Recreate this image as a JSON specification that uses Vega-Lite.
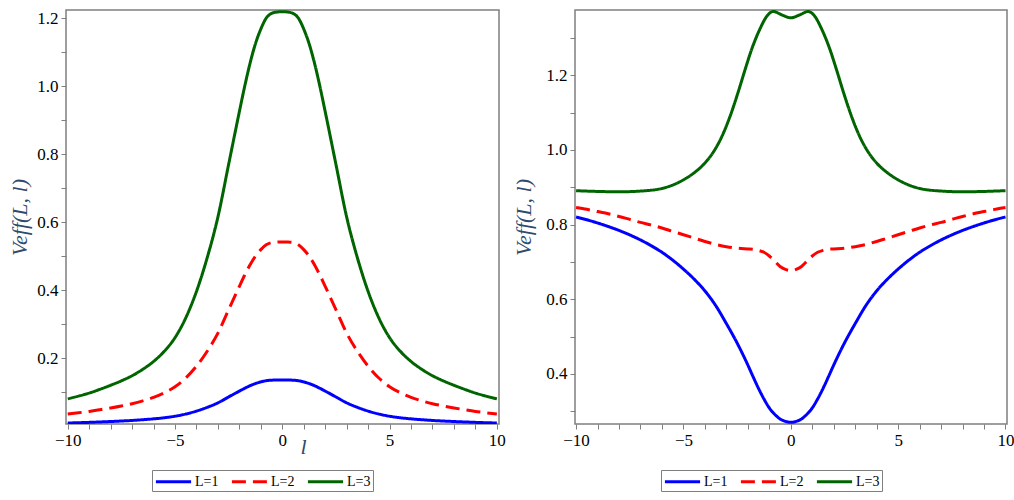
{
  "$schema": "https://vega.github.io/schema/vega-lite/v6.json",
  "background": "white",
  "padding": {"left": 7, "top": 8, "right": 0, "bottom": 0},
  "config": {
    "view": {"stroke": "#7f7f7f", "strokeWidth": 1.5},
    "font": "Liberation Serif",
    "style": {"guide-label": {"font": "Liberation Serif"}, "guide-title": {"font": "Liberation Serif"}},
    "concat": {"spacing": 4},
    "axis": {"domain": false, "grid": false, "tickColor": "#7f7f7f", "tickSize": 5, "tickWidth": 1, "labelFont": "Liberation Serif", "labelFontSize": 17, "labelColor": "black", "labelPadding": 3, "labelFlush": false, "labelOverlap": false, "titleFont": "Liberation Serif", "titleFontStyle": "italic", "titleFontWeight": "normal", "titleFontSize": 22, "titleColor": "#2f4a6e"},
    "legend": {"strokeColor": "#7f7f7f", "padding": 2, "symbolType": "M-2.2,0H2.2", "symbolSize": 256, "symbolOffset": 10, "symbolStrokeWidth": 3, "labelFont": "Liberation Serif", "labelFontSize": 14, "labelColor": "black", "labelOffset": 12, "columnPadding": 6}
  },
  "datasets": {
    "left": [
      {"l":-10,"V":0.0089,"L":"L=1"},{"l":-9.5,"V":0.0098,"L":"L=1"},{"l":-9,"V":0.0108,"L":"L=1"},{"l":-8.5,"V":0.012,"L":"L=1"},{"l":-8,"V":0.0133,"L":"L=1"},{"l":-7.5,"V":0.0148,"L":"L=1"},{"l":-7,"V":0.0164,"L":"L=1"},{"l":-6.5,"V":0.0186,"L":"L=1"},{"l":-6,"V":0.0211,"L":"L=1"},{"l":-5.5,"V":0.0244,"L":"L=1"},{"l":-5,"V":0.0289,"L":"L=1"},{"l":-4.5,"V":0.0353,"L":"L=1"},{"l":-4,"V":0.044,"L":"L=1"},{"l":-3.5,"V":0.055,"L":"L=1"},{"l":-3,"V":0.0683,"L":"L=1"},{"l":-2.5,"V":0.0856,"L":"L=1"},{"l":-2,"V":0.1028,"L":"L=1"},{"l":-1.75,"V":0.1111,"L":"L=1"},{"l":-1.5,"V":0.1187,"L":"L=1"},{"l":-1.25,"V":0.125,"L":"L=1"},{"l":-1,"V":0.1298,"L":"L=1"},{"l":-0.75,"V":0.1333,"L":"L=1"},{"l":-0.5,"V":0.1349,"L":"L=1"},{"l":-0.25,"V":0.1353,"L":"L=1"},{"l":0,"V":0.1354,"L":"L=1"},{"l":0.25,"V":0.1353,"L":"L=1"},{"l":0.5,"V":0.1349,"L":"L=1"},{"l":0.75,"V":0.1333,"L":"L=1"},{"l":1,"V":0.1298,"L":"L=1"},{"l":1.25,"V":0.125,"L":"L=1"},{"l":1.5,"V":0.1187,"L":"L=1"},{"l":1.75,"V":0.1111,"L":"L=1"},{"l":2,"V":0.1028,"L":"L=1"},{"l":2.5,"V":0.0856,"L":"L=1"},{"l":3,"V":0.0683,"L":"L=1"},{"l":3.5,"V":0.055,"L":"L=1"},{"l":4,"V":0.044,"L":"L=1"},{"l":4.5,"V":0.0353,"L":"L=1"},{"l":5,"V":0.0289,"L":"L=1"},{"l":5.5,"V":0.0244,"L":"L=1"},{"l":6,"V":0.0211,"L":"L=1"},{"l":6.5,"V":0.0186,"L":"L=1"},{"l":7,"V":0.0164,"L":"L=1"},{"l":7.5,"V":0.0148,"L":"L=1"},{"l":8,"V":0.0133,"L":"L=1"},{"l":8.5,"V":0.012,"L":"L=1"},{"l":9,"V":0.0108,"L":"L=1"},{"l":9.5,"V":0.0098,"L":"L=1"},{"l":10,"V":0.0089,"L":"L=1"},
      {"l":-10,"V":0.0356,"L":"L=2"},{"l":-9.5,"V":0.0391,"L":"L=2"},{"l":-9,"V":0.0431,"L":"L=2"},{"l":-8.5,"V":0.048,"L":"L=2"},{"l":-8,"V":0.0533,"L":"L=2"},{"l":-7.5,"V":0.0591,"L":"L=2"},{"l":-7,"V":0.0658,"L":"L=2"},{"l":-6.5,"V":0.0742,"L":"L=2"},{"l":-6,"V":0.0844,"L":"L=2"},{"l":-5.5,"V":0.0978,"L":"L=2"},{"l":-5,"V":0.1156,"L":"L=2"},{"l":-4.5,"V":0.1413,"L":"L=2"},{"l":-4,"V":0.176,"L":"L=2"},{"l":-3.5,"V":0.22,"L":"L=2"},{"l":-3,"V":0.2733,"L":"L=2"},{"l":-2.5,"V":0.3422,"L":"L=2"},{"l":-2,"V":0.4111,"L":"L=2"},{"l":-1.75,"V":0.4444,"L":"L=2"},{"l":-1.5,"V":0.4747,"L":"L=2"},{"l":-1.25,"V":0.5,"L":"L=2"},{"l":-1,"V":0.5191,"L":"L=2"},{"l":-0.75,"V":0.5333,"L":"L=2"},{"l":-0.5,"V":0.5396,"L":"L=2"},{"l":-0.25,"V":0.5413,"L":"L=2"},{"l":0,"V":0.5418,"L":"L=2"},{"l":0.25,"V":0.5413,"L":"L=2"},{"l":0.5,"V":0.5396,"L":"L=2"},{"l":0.75,"V":0.5333,"L":"L=2"},{"l":1,"V":0.5191,"L":"L=2"},{"l":1.25,"V":0.5,"L":"L=2"},{"l":1.5,"V":0.4747,"L":"L=2"},{"l":1.75,"V":0.4444,"L":"L=2"},{"l":2,"V":0.4111,"L":"L=2"},{"l":2.5,"V":0.3422,"L":"L=2"},{"l":3,"V":0.2733,"L":"L=2"},{"l":3.5,"V":0.22,"L":"L=2"},{"l":4,"V":0.176,"L":"L=2"},{"l":4.5,"V":0.1413,"L":"L=2"},{"l":5,"V":0.1156,"L":"L=2"},{"l":5.5,"V":0.0978,"L":"L=2"},{"l":6,"V":0.0844,"L":"L=2"},{"l":6.5,"V":0.0742,"L":"L=2"},{"l":7,"V":0.0658,"L":"L=2"},{"l":7.5,"V":0.0591,"L":"L=2"},{"l":8,"V":0.0533,"L":"L=2"},{"l":8.5,"V":0.048,"L":"L=2"},{"l":9,"V":0.0431,"L":"L=2"},{"l":9.5,"V":0.0391,"L":"L=2"},{"l":10,"V":0.0356,"L":"L=2"},
      {"l":-10,"V":0.08,"L":"L=3"},{"l":-9.5,"V":0.088,"L":"L=3"},{"l":-9,"V":0.097,"L":"L=3"},{"l":-8.5,"V":0.108,"L":"L=3"},{"l":-8,"V":0.12,"L":"L=3"},{"l":-7.5,"V":0.133,"L":"L=3"},{"l":-7,"V":0.148,"L":"L=3"},{"l":-6.5,"V":0.167,"L":"L=3"},{"l":-6,"V":0.19,"L":"L=3"},{"l":-5.5,"V":0.22,"L":"L=3"},{"l":-5,"V":0.26,"L":"L=3"},{"l":-4.5,"V":0.318,"L":"L=3"},{"l":-4,"V":0.396,"L":"L=3"},{"l":-3.5,"V":0.495,"L":"L=3"},{"l":-3,"V":0.615,"L":"L=3"},{"l":-2.5,"V":0.77,"L":"L=3"},{"l":-2,"V":0.925,"L":"L=3"},{"l":-1.75,"V":1.0,"L":"L=3"},{"l":-1.5,"V":1.068,"L":"L=3"},{"l":-1.25,"V":1.125,"L":"L=3"},{"l":-1,"V":1.168,"L":"L=3"},{"l":-0.75,"V":1.2,"L":"L=3"},{"l":-0.5,"V":1.214,"L":"L=3"},{"l":-0.25,"V":1.218,"L":"L=3"},{"l":0,"V":1.219,"L":"L=3"},{"l":0.25,"V":1.218,"L":"L=3"},{"l":0.5,"V":1.214,"L":"L=3"},{"l":0.75,"V":1.2,"L":"L=3"},{"l":1,"V":1.168,"L":"L=3"},{"l":1.25,"V":1.125,"L":"L=3"},{"l":1.5,"V":1.068,"L":"L=3"},{"l":1.75,"V":1.0,"L":"L=3"},{"l":2,"V":0.925,"L":"L=3"},{"l":2.5,"V":0.77,"L":"L=3"},{"l":3,"V":0.615,"L":"L=3"},{"l":3.5,"V":0.495,"L":"L=3"},{"l":4,"V":0.396,"L":"L=3"},{"l":4.5,"V":0.318,"L":"L=3"},{"l":5,"V":0.26,"L":"L=3"},{"l":5.5,"V":0.22,"L":"L=3"},{"l":6,"V":0.19,"L":"L=3"},{"l":6.5,"V":0.167,"L":"L=3"},{"l":7,"V":0.148,"L":"L=3"},{"l":7.5,"V":0.133,"L":"L=3"},{"l":8,"V":0.12,"L":"L=3"},{"l":8.5,"V":0.108,"L":"L=3"},{"l":9,"V":0.097,"L":"L=3"},{"l":9.5,"V":0.088,"L":"L=3"},{"l":10,"V":0.08,"L":"L=3"}
    ],
    "right": [
      {"l":-10,"V":0.8205,"L":"L=1"},{"l":-9.5,"V":0.813,"L":"L=1"},{"l":-9,"V":0.8045,"L":"L=1"},{"l":-8.5,"V":0.795,"L":"L=1"},{"l":-8,"V":0.7845,"L":"L=1"},{"l":-7.5,"V":0.7725,"L":"L=1"},{"l":-7,"V":0.759,"L":"L=1"},{"l":-6.5,"V":0.7435,"L":"L=1"},{"l":-6,"V":0.726,"L":"L=1"},{"l":-5.5,"V":0.705,"L":"L=1"},{"l":-5,"V":0.681,"L":"L=1"},{"l":-4.5,"V":0.654,"L":"L=1"},{"l":-4,"V":0.6225,"L":"L=1"},{"l":-3.5,"V":0.5835,"L":"L=1"},{"l":-3,"V":0.535,"L":"L=1"},{"l":-2.5,"V":0.483,"L":"L=1"},{"l":-2,"V":0.424,"L":"L=1"},{"l":-1.75,"V":0.392,"L":"L=1"},{"l":-1.5,"V":0.361,"L":"L=1"},{"l":-1.25,"V":0.333,"L":"L=1"},{"l":-1,"V":0.309,"L":"L=1"},{"l":-0.75,"V":0.292,"L":"L=1"},{"l":-0.5,"V":0.2795,"L":"L=1"},{"l":-0.25,"V":0.273,"L":"L=1"},{"l":0,"V":0.2705,"L":"L=1"},{"l":0.25,"V":0.273,"L":"L=1"},{"l":0.5,"V":0.2795,"L":"L=1"},{"l":0.75,"V":0.292,"L":"L=1"},{"l":1,"V":0.309,"L":"L=1"},{"l":1.25,"V":0.333,"L":"L=1"},{"l":1.5,"V":0.361,"L":"L=1"},{"l":1.75,"V":0.392,"L":"L=1"},{"l":2,"V":0.424,"L":"L=1"},{"l":2.5,"V":0.483,"L":"L=1"},{"l":3,"V":0.535,"L":"L=1"},{"l":3.5,"V":0.5835,"L":"L=1"},{"l":4,"V":0.6225,"L":"L=1"},{"l":4.5,"V":0.654,"L":"L=1"},{"l":5,"V":0.681,"L":"L=1"},{"l":5.5,"V":0.705,"L":"L=1"},{"l":6,"V":0.726,"L":"L=1"},{"l":6.5,"V":0.7435,"L":"L=1"},{"l":7,"V":0.759,"L":"L=1"},{"l":7.5,"V":0.7725,"L":"L=1"},{"l":8,"V":0.7845,"L":"L=1"},{"l":8.5,"V":0.795,"L":"L=1"},{"l":9,"V":0.8045,"L":"L=1"},{"l":9.5,"V":0.813,"L":"L=1"},{"l":10,"V":0.8205,"L":"L=1"},
      {"l":-10,"V":0.846,"L":"L=2"},{"l":-9.5,"V":0.841,"L":"L=2"},{"l":-9,"V":0.835,"L":"L=2"},{"l":-8.5,"V":0.829,"L":"L=2"},{"l":-8,"V":0.822,"L":"L=2"},{"l":-7.5,"V":0.814,"L":"L=2"},{"l":-7,"V":0.806,"L":"L=2"},{"l":-6.5,"V":0.799,"L":"L=2"},{"l":-6,"V":0.791,"L":"L=2"},{"l":-5.5,"V":0.782,"L":"L=2"},{"l":-5,"V":0.773,"L":"L=2"},{"l":-4.5,"V":0.764,"L":"L=2"},{"l":-4,"V":0.755,"L":"L=2"},{"l":-3.5,"V":0.747,"L":"L=2"},{"l":-3,"V":0.741,"L":"L=2"},{"l":-2.5,"V":0.737,"L":"L=2"},{"l":-2,"V":0.735,"L":"L=2"},{"l":-1.75,"V":0.734,"L":"L=2"},{"l":-1.5,"V":0.731,"L":"L=2"},{"l":-1.25,"V":0.726,"L":"L=2"},{"l":-1,"V":0.716,"L":"L=2"},{"l":-0.75,"V":0.702,"L":"L=2"},{"l":-0.5,"V":0.688,"L":"L=2"},{"l":-0.25,"V":0.68,"L":"L=2"},{"l":0,"V":0.677,"L":"L=2"},{"l":0.25,"V":0.68,"L":"L=2"},{"l":0.5,"V":0.688,"L":"L=2"},{"l":0.75,"V":0.702,"L":"L=2"},{"l":1,"V":0.716,"L":"L=2"},{"l":1.25,"V":0.726,"L":"L=2"},{"l":1.5,"V":0.731,"L":"L=2"},{"l":1.75,"V":0.734,"L":"L=2"},{"l":2,"V":0.735,"L":"L=2"},{"l":2.5,"V":0.737,"L":"L=2"},{"l":3,"V":0.741,"L":"L=2"},{"l":3.5,"V":0.747,"L":"L=2"},{"l":4,"V":0.755,"L":"L=2"},{"l":4.5,"V":0.764,"L":"L=2"},{"l":5,"V":0.773,"L":"L=2"},{"l":5.5,"V":0.782,"L":"L=2"},{"l":6,"V":0.791,"L":"L=2"},{"l":6.5,"V":0.799,"L":"L=2"},{"l":7,"V":0.806,"L":"L=2"},{"l":7.5,"V":0.814,"L":"L=2"},{"l":8,"V":0.822,"L":"L=2"},{"l":8.5,"V":0.829,"L":"L=2"},{"l":9,"V":0.835,"L":"L=2"},{"l":9.5,"V":0.841,"L":"L=2"},{"l":10,"V":0.846,"L":"L=2"},
      {"l":-10,"V":0.891,"L":"L=3"},{"l":-9,"V":0.889,"L":"L=3"},{"l":-8,"V":0.888,"L":"L=3"},{"l":-7,"V":0.89,"L":"L=3"},{"l":-6,"V":0.897,"L":"L=3"},{"l":-5.5,"V":0.906,"L":"L=3"},{"l":-5,"V":0.92,"L":"L=3"},{"l":-4.5,"V":0.939,"L":"L=3"},{"l":-4,"V":0.965,"L":"L=3"},{"l":-3.6,"V":0.995,"L":"L=3"},{"l":-3.14,"V":1.045,"L":"L=3"},{"l":-2.83,"V":1.09,"L":"L=3"},{"l":-2.44,"V":1.157,"L":"L=3"},{"l":-2.13,"V":1.215,"L":"L=3"},{"l":-1.82,"V":1.27,"L":"L=3"},{"l":-1.43,"V":1.325,"L":"L=3"},{"l":-1.12,"V":1.358,"L":"L=3"},{"l":-0.81,"V":1.371,"L":"L=3"},{"l":-0.42,"V":1.362,"L":"L=3"},{"l":0,"V":1.354,"L":"L=3"},{"l":0.42,"V":1.362,"L":"L=3"},{"l":0.81,"V":1.371,"L":"L=3"},{"l":1.12,"V":1.358,"L":"L=3"},{"l":1.43,"V":1.325,"L":"L=3"},{"l":1.82,"V":1.27,"L":"L=3"},{"l":2.13,"V":1.215,"L":"L=3"},{"l":2.44,"V":1.157,"L":"L=3"},{"l":2.83,"V":1.09,"L":"L=3"},{"l":3.14,"V":1.045,"L":"L=3"},{"l":3.6,"V":0.995,"L":"L=3"},{"l":4,"V":0.965,"L":"L=3"},{"l":4.5,"V":0.939,"L":"L=3"},{"l":5,"V":0.92,"L":"L=3"},{"l":5.5,"V":0.906,"L":"L=3"},{"l":6,"V":0.897,"L":"L=3"},{"l":7,"V":0.89,"L":"L=3"},{"l":8,"V":0.888,"L":"L=3"},{"l":9,"V":0.889,"L":"L=3"},{"l":10,"V":0.891,"L":"L=3"}
    ]
  },
  "hconcat": [
    {
      "width": 433,
      "height": 414,
      "data": {"name": "left"},
      "mark": {"type": "line", "strokeWidth": 3, "interpolate": "monotone", "clip": true},
      "encoding": {
        "x": {"field": "l", "type": "quantitative", "scale": {"domain": [-10.08, 10.1], "nice": false, "zero": false},
              "axis": {"values": [-10,-9,-8,-7,-6,-5,-4,-3,-2,-1,0,1,2,3,4,5,6,7,8,9,10], "format": "d", "labelFont": "Liberation Serif", "labelExpr": "datum.value % 5 == 0 ? datum.label : ''", "title": "l", "titleFont": "Liberation Serif", "titleX": 237, "titleY": 29, "titleBaseline": "alphabetic", "titleAlign": "center"}},
        "y": {"field": "V", "type": "quantitative", "scale": {"domain": [0.006, 1.224], "nice": false, "zero": false},
              "axis": {"values": [0.1,0.2,0.3,0.4,0.5,0.6,0.7,0.8,0.9,1.0,1.1,1.2], "labelFont": "Liberation Serif", "labelExpr": "round(datum.value*10) % 2 == 0 ? format(datum.value, '.1f') : ''", "title": "Veff(L, l)", "titleFont": "Liberation Serif", "titleX": -47, "titleBaseline": "middle"}},
        "color": {"field": "L", "type": "nominal", "scale": {"domain": ["L=1","L=2","L=3"], "range": ["#0000ff","#ff0000","#006400"]},
                  "legend": {"title": null, "orient": "none", "direction": "horizontal", "legendX": 86, "legendY": 460}},
        "strokeDash": {"field": "L", "type": "nominal", "scale": {"domain": ["L=1","L=2","L=3"], "range": [[1,0],[14,7],[1,0]]},
                  "legend": {"title": null, "orient": "none", "direction": "horizontal", "legendX": 86, "legendY": 460}}
      }
    },
    {
      "width": 432,
      "height": 414,
      "data": {"name": "right"},
      "mark": {"type": "line", "strokeWidth": 3, "interpolate": "monotone", "clip": true},
      "encoding": {
        "x": {"field": "l", "type": "quantitative", "scale": {"domain": [-10.05, 10.07], "nice": false, "zero": false},
              "axis": {"values": [-10,-9,-8,-7,-6,-5,-4,-3,-2,-1,0,1,2,3,4,5,6,7,8,9,10], "format": "d", "labelFont": "Liberation Serif", "labelExpr": "datum.value % 5 == 0 ? datum.label : ''", "title": null}},
        "y": {"field": "V", "type": "quantitative", "scale": {"domain": [0.266, 1.375], "nice": false, "zero": false},
              "axis": {"values": [0.3,0.4,0.5,0.6,0.7,0.8,0.9,1.0,1.1,1.2,1.3], "labelFont": "Liberation Serif", "labelExpr": "round(datum.value*10) % 2 == 0 ? format(datum.value, '.1f') : ''", "title": "Veff(L, l)", "titleFont": "Liberation Serif", "titleX": -52, "titleBaseline": "middle"}},
        "color": {"field": "L", "type": "nominal", "scale": {"domain": ["L=1","L=2","L=3"], "range": ["#0000ff","#ff0000","#006400"]},
                  "legend": {"title": null, "orient": "none", "direction": "horizontal", "legendX": 86, "legendY": 460}},
        "strokeDash": {"field": "L", "type": "nominal", "scale": {"domain": ["L=1","L=2","L=3"], "range": [[1,0],[14,7],[1,0]]},
                  "legend": {"title": null, "orient": "none", "direction": "horizontal", "legendX": 86, "legendY": 460}}
      }
    }
  ],
  "resolve": {"scale": {"color": "independent", "strokeDash": "independent", "x": "independent", "y": "independent"}, "legend": {"color": "independent", "strokeDash": "independent"}}
}
